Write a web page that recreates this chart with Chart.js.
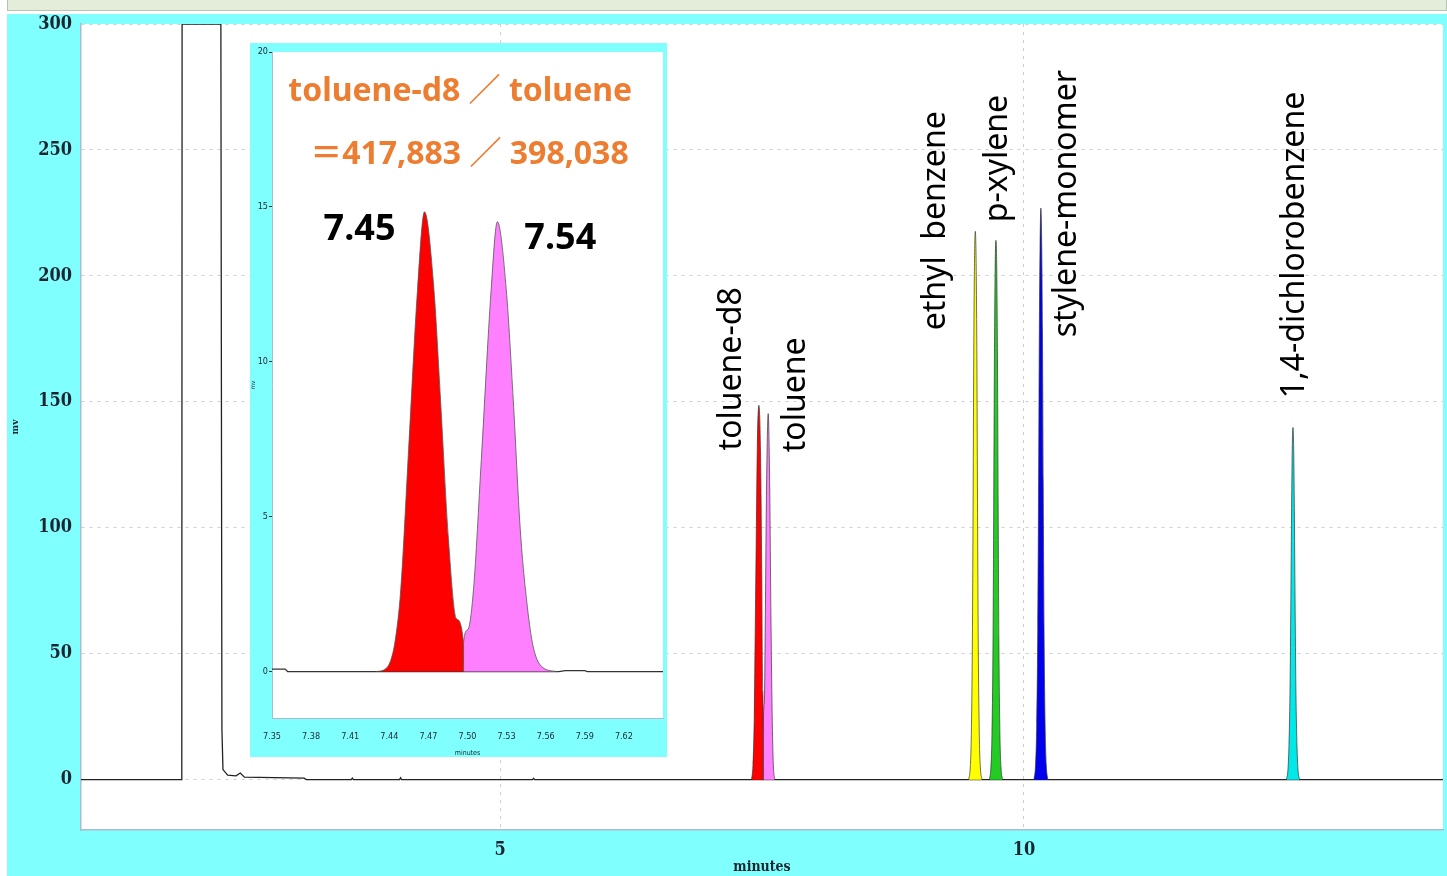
<!DOCTYPE html>
<html>
<head>
<meta charset="utf-8">
<script src="https://cdn.jsdelivr.net/npm/chart.js@4.4.1/dist/chart.umd.min.js"></script>
<style>
  body { margin: 0; width: 1447px; height: 876px; overflow: hidden; background: #fff; position: relative; }
  #topbar { position: absolute; left: 7px; top: 0; width: 1440px; height: 11px; background: #e3edd9; border: 1px solid #b9c3b1; border-top: none; box-sizing: border-box; }
  #main { position: absolute; left: 7px; top: 14px; width: 1440px; height: 862px; background: #80ffff; }
  #inset { position: absolute; left: 250px; top: 43px; width: 417px; height: 714px; background: #80ffff; }
</style>
</head>
<body>
<div id="topbar"></div>
<div id="main"><canvas id="main-chart" width="1440" height="862"></canvas></div>
<div id="inset"><canvas id="inset-chart" width="417" height="714"></canvas></div>
<script>
// ---- main chromatogram (minutes, mV) ----
const xTicks = [5, 10];
const yTicks = [0, 50, 100, 150, 200, 250, 300];

const baseline = [
  [1.0, 0], [1.962, 0], [1.965, 300], [2.335, 300], [2.345, 20], [2.355, 4],
  [2.40, 1.8], [2.48, 1.5], [2.52, 2.6], [2.56, 1.0], [3.13, 0.6], [3.15, 0],
  [3.58, 0], [3.59, 0.6], [3.60, 0], [4.04, 0], [4.05, 0.7], [4.06, 0],
  [5.31, 0], [5.32, 0.5], [5.33, 0], [14.0, 0]
];

const peakNames = ["toluene-d8", "toluene", "ethyl  benzene", "p-xylene", "stylene-monomer", "1,4-dichlorobenzene"];
const peakColors = ["#ff0000", "#ff80ff", "#ffff00", "#22cc22", "#0000ee", "#00e8e8"];

const toluene_d8 = [
  [7.400, 0], [7.414, 6], [7.426, 25], [7.436, 62], [7.446, 100], [7.455, 132],
  [7.470, 148.6], [7.486, 130], [7.498, 80], [7.507, 35], [7.512, 18], [7.5121, 0]
];
const toluene = [
  [7.512, 0], [7.5121, 18], [7.522, 30], [7.532, 66], [7.543, 115], [7.559, 145.3],
  [7.574, 115], [7.585, 66], [7.597, 26], [7.608, 6], [7.622, 0]
];
const ethylBenzene = [
  [9.473, 0], [9.488, 5], [9.498, 18], [9.508, 55], [9.515, 110], [9.521, 168], [9.528, 205], [9.536, 217.7],
  [9.544, 205], [9.551, 168], [9.557, 110], [9.564, 55], [9.574, 18], [9.584, 5], [9.599, 0]
];
const pXylene = [
  [9.67, 0], [9.685, 5], [9.695, 18], [9.705, 55], [9.712, 110], [9.718, 165], [9.725, 202], [9.733, 214.1],
  [9.741, 202], [9.748, 165], [9.754, 110], [9.761, 55], [9.771, 18], [9.781, 5], [9.796, 0]
];
const styrene = [
  [10.096, 0], [10.111, 6], [10.122, 22], [10.132, 60], [10.14, 118], [10.147, 178], [10.154, 212], [10.162, 226.9],
  [10.17, 212], [10.177, 178], [10.184, 118], [10.192, 60], [10.202, 22], [10.213, 6], [10.228, 0]
];
const dichlorobenzene = [
  [12.505, 0], [12.52, 4], [12.53, 14], [12.54, 36], [12.548, 72], [12.555, 108], [12.561, 131], [12.568, 139.8],
  [12.575, 131], [12.581, 108], [12.588, 72], [12.596, 36], [12.606, 14], [12.616, 4], [12.631, 0]
];
const peaks = [toluene_d8, toluene, ethylBenzene, pXylene, styrene, dichlorobenzene];

// ---- inset (zoom on toluene-d8 / toluene) ----
const insetXTicks = [7.35, 7.38, 7.41, 7.44, 7.47, 7.50, 7.53, 7.56, 7.59, 7.62];
const insetYTicks = [0, 5, 10, 15, 20];
const insetBaseline = [
  [7.35, 0.08], [7.36, 0.08], [7.362, 0], [7.43, 0], [7.57, 0], [7.575, 0.03],
  [7.59, 0.03], [7.592, 0], [7.65, 0]
];
const insetRed = [
  [7.4296, 0], [7.4357, 0.05], [7.441, 0.35], [7.4445, 1.0], [7.4487, 2.6], [7.4548, 7.16],
  [7.4616, 12.3], [7.467, 14.84], [7.4743, 12.3], [7.4793, 8.77], [7.4854, 4.26],
  [7.4915, 1.7], [7.4969, 0.94], [7.497, 0]
];
const insetPink = [
  [7.4969, 0], [7.497, 0.94], [7.5002, 1.35], [7.5045, 2.6], [7.5106, 6.84], [7.5181, 12.3],
  [7.5229, 14.52], [7.5298, 12.3], [7.5351, 8.77], [7.5405, 4.58], [7.5459, 2.1],
  [7.5504, 0.8], [7.5581, 0.12], [7.5688, 0]
];
const retentionLabels = ["7.45", "7.54"];
const ratioLines = ["toluene-d8 ／ toluene", "＝417,883 ／ 398,038"];

const tickFont = { family: "'DejaVu Serif Condensed', 'Liberation Serif', serif", weight: "bold", size: 18 };

const plotBackground = {
  id: "plotBackground",
  beforeDraw(chart) {
    const { ctx, chartArea: a } = chart;
    ctx.save();
    ctx.fillStyle = "#ffffff";
    ctx.fillRect(a.left, a.top, a.width, a.height);
    ctx.restore();
  }
};

// rotated compound names next to each peak apex
const peakLabels = {
  id: "peakLabels",
  afterDatasetsDraw(chart, args, opts) {
    const { ctx, scales: { x, y } } = chart;
    ctx.save();
    ctx.font = opts.font;
    ctx.fillStyle = "#000";
    ctx.textBaseline = "middle";
    ctx.textAlign = "left";
    peaks.forEach((pk, i) => {
      const apex = pk.reduce((a, b) => (b[1] > a[1] ? b : a));
      const place = opts.place[i];
      const px = x.getPixelForValue(apex[0]) + place.dx;
      const py = y.getPixelForValue(place.y);
      ctx.save();
      ctx.translate(px, py);
      ctx.rotate(-Math.PI / 2);
      ctx.fillText(peakNames[i], 0, 0);
      ctx.restore();
    });
    ctx.restore();
  }
};

new Chart(document.getElementById("main-chart"), {
  type: "line",
  data: {
    datasets: [
      ...peaks.map((pk, i) => ({
        data: pk,
        borderColor: "#333",
        borderWidth: 0.7,
        backgroundColor: peakColors[i],
        fill: "origin",
        cubicInterpolationMode: "monotone"
      })),
      { data: baseline, borderColor: "#222", borderWidth: 1.3, fill: false }
    ]
  },
  options: {
    responsive: false,
    animation: false,
    layout: { autoPadding: false, padding: { top: 10, right: 4 } },
    elements: { point: { radius: 0 }, line: { tension: 0 } },
    plugins: {
      legend: { display: false },
      tooltip: { enabled: false },
      peakLabels: {
        font: "32px 'Noto Sans', sans-serif",
        place: [
          { dx: -27, y: 130.7 }, { dx: 28, y: 130 }, { dx: -39, y: 178.4 },
          { dx: 2, y: 221.3 }, { dx: 26, y: 175.6 }, { dx: 2, y: 151.4 }
        ]
      }
    },
    scales: {
      x: {
        type: "linear", min: 1, max: 14,
        afterBuildTicks: axis => { axis.ticks = xTicks.map(v => ({ value: v })); },
        afterFit: axis => { axis.height = 46; },
        ticks: { font: tickFont, color: "#1d2630", padding: 10 },
        grid: { color: "#cfcfcf", drawTicks: false, lineWidth: 1 },
        border: { color: "#a9bccf", width: 1.5, dash: [3, 5] },
        title: { display: true, text: "minutes", font: { family: "'DejaVu Serif Condensed', 'Liberation Serif', serif", weight: "bold", size: 14 }, color: "#1d2630", padding: 0 }
      },
      y: {
        type: "linear", min: -20, max: 300,
        afterBuildTicks: axis => { axis.ticks = yTicks.map(v => ({ value: v })); },
        afterFit: axis => { axis.width = 74; axis.paddingTop = 0; axis.paddingBottom = 0; },
        ticks: { font: tickFont, color: "#1d2630", padding: 9 },
        grid: { color: "#cfcfcf", drawTicks: false, lineWidth: 1 },
        border: { color: "#a9bccf", width: 1.5, dash: [3, 5] },
        title: { display: true, text: "mv", font: { family: "'DejaVu Serif Condensed', 'Liberation Serif', serif", weight: "bold", size: 10 }, color: "#1d2630", padding: 2 }
      }
    }
  },
  plugins: [plotBackground, peakLabels]
});

// area ratio text and retention times in the inset
const insetNotes = {
  id: "insetNotes",
  afterDatasetsDraw(chart, args, opts) {
    const { ctx, scales: { x, y } } = chart;
    ctx.save();
    ctx.textBaseline = "middle";
    ctx.fillStyle = "#ed7d31";
    ctx.font = opts.ratioFont;
    ctx.textAlign = "center";
    ratioLines.forEach((line, i) => {
      ctx.fillText(line, x.getPixelForValue(opts.ratioAt[i][0]), y.getPixelForValue(opts.ratioAt[i][1]));
    });
    ctx.fillStyle = "#000";
    ctx.font = opts.rtFont;
    [insetRed, insetPink].forEach((pk, i) => {
      const apex = pk.reduce((a, b) => (b[1] > a[1] ? b : a));
      const off = opts.rtOffset[i];
      ctx.textAlign = off.align;
      ctx.fillText(retentionLabels[i], x.getPixelForValue(apex[0]) + off.dx, y.getPixelForValue(apex[1]) + off.dy);
    });
    ctx.restore();
  }
};

const smallFont = { family: "'DejaVu Sans Condensed', 'Liberation Sans Narrow', sans-serif", size: 9 };

new Chart(document.getElementById("inset-chart"), {
  type: "line",
  data: {
    datasets: [
      { data: insetRed, borderColor: "#555", borderWidth: 0.8, backgroundColor: "#ff0000", fill: "origin", cubicInterpolationMode: "monotone" },
      { data: insetPink, borderColor: "#555", borderWidth: 0.8, backgroundColor: "#ff80ff", fill: "origin", cubicInterpolationMode: "monotone" },
      { data: insetBaseline, borderColor: "#333", borderWidth: 1.2, fill: false }
    ]
  },
  options: {
    responsive: false,
    animation: false,
    layout: { padding: { top: 9, right: 4 } },
    elements: { point: { radius: 0 }, line: { tension: 0 } },
    plugins: {
      legend: { display: false },
      tooltip: { enabled: false },
      insetNotes: {
        ratioFont: "bold 32px 'Noto Sans', 'Noto Sans CJK JP', sans-serif",
        ratioAt: [[7.4944, 18.7], [7.5015, 16.68]],
        rtFont: "bold 36px 'Noto Sans', sans-serif",
        rtOffset: [{ dx: -29, dy: 18, align: "right" }, { dx: 27, dy: 17, align: "left" }]
      }
    },
    scales: {
      x: {
        type: "linear", min: 7.35, max: 7.65,
        afterBuildTicks: axis => { axis.ticks = insetXTicks.map(v => ({ value: v })); },
        afterFit: axis => { axis.height = 39; },
        ticks: { font: smallFont, color: "#1d2630", padding: 5, maxRotation: 0, callback: v => v.toFixed(2) },
        grid: { display: false },
        border: { color: "#a9bccf", width: 1 },
        title: { display: true, text: "minutes", font: { family: "'DejaVu Sans Condensed', sans-serif", size: 7 }, color: "#1d2630", padding: 0 }
      },
      y: {
        type: "linear", min: -1.5, max: 20,
        afterBuildTicks: axis => { axis.ticks = insetYTicks.map(v => ({ value: v })); },
        afterFit: axis => { axis.width = 22; },
        ticks: { font: smallFont, color: "#1d2630", padding: 1 },
        grid: { drawOnChartArea: false, drawTicks: true, tickLength: 3, color: "#333" },
        border: { color: "#a9bccf", width: 1 },
        title: { display: true, text: "mv", font: { family: "'DejaVu Sans Condensed', sans-serif", size: 6 }, color: "#1d2630", padding: 0 }
      }
    }
  },
  plugins: [plotBackground, insetNotes]
});
</script>
</body>
</html>
